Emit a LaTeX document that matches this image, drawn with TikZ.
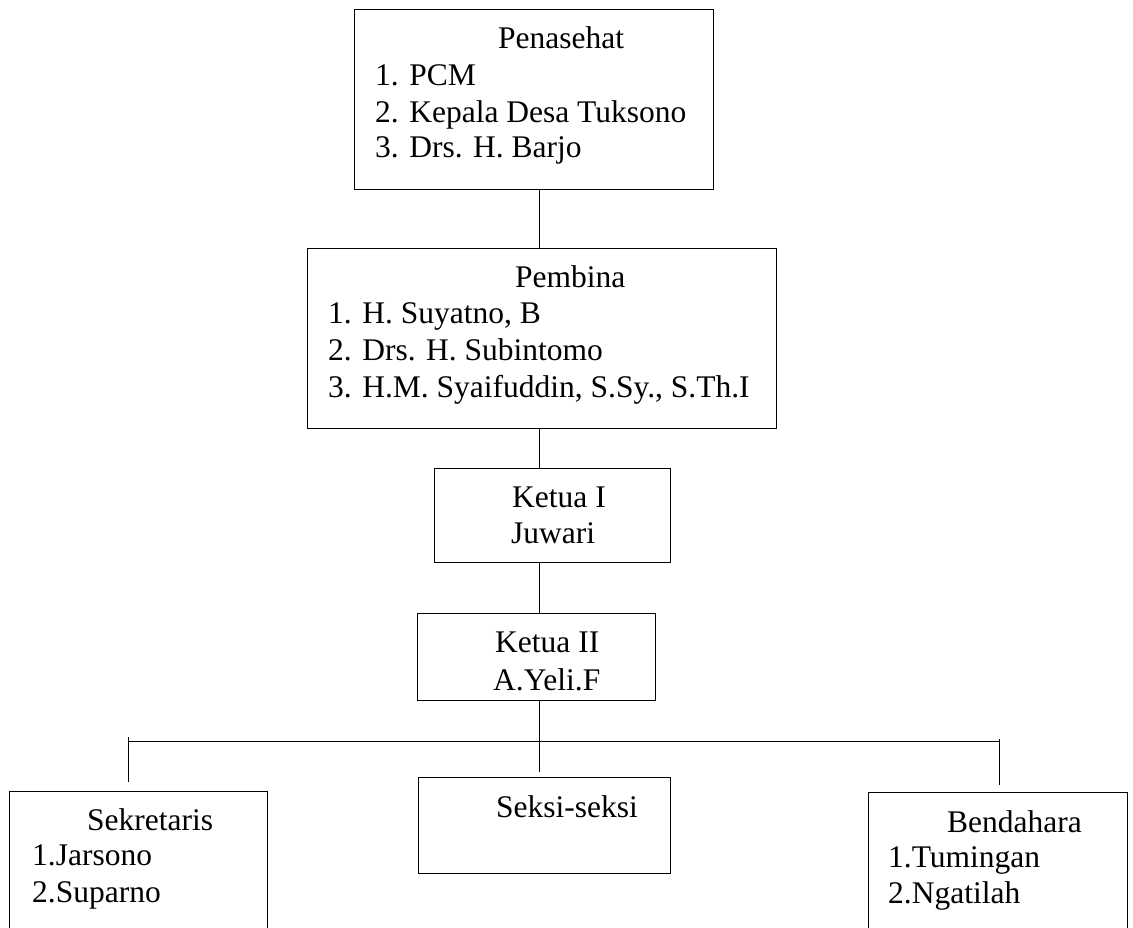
\documentclass[tikz,border=0pt]{standalone}
\usepackage{fontspec}
\setmainfont{Liberation Serif}
\begin{document}
\begin{tikzpicture}[x=1pt,y=-1pt,
  box/.style={draw=black,line width=1pt,inner sep=0pt,rectangle},
  lbl/.style={anchor=base west,inner sep=0pt,font=\fontsize{31.5}{37.8}\selectfont},
  conn/.style={draw=black,line width=1pt}]
\useasboundingbox (0,0) rectangle (1133,927);
\clip (0,0) rectangle (1133,927);
% boxes
\node[box,minimum width=359pt,minimum height=180pt] (pen) at (533.5,99) {};
\node[box,minimum width=469pt,minimum height=180pt] (pem) at (541.5,338) {};
\node[box,minimum width=236pt,minimum height=94pt] (k1) at (552,515) {};
\node[box,minimum width=238pt,minimum height=87pt] (k2) at (536,656.5) {};
\node[box,minimum width=252pt,minimum height=96pt] (seksi) at (544,825) {};
\node[box,minimum width=258pt,minimum height=220pt] (sek) at (138,901) {};
\node[box,minimum width=259pt,minimum height=220pt] (ben) at (997.5,902) {};
% texts
\node[lbl] (t1) at (498,48) {Penasehat};
\node[lbl] (t2) at (375,85) {1. PCM};
\node[lbl] (t3) at (375,122) {2. Kepala Desa Tuksono};
\node[lbl] (t4) at (375,157) {3. Drs. H. Barjo};
\node[lbl] (t5) at (515,287) {Pembina};
\node[lbl] (t6) at (328,323) {1. H. Suyatno, B};
\node[lbl] (t7) at (328,360) {2. Drs. H. Subintomo};
\node[lbl] (t8) at (328,397) {3. H.M. Syaifuddin, S.Sy., S.Th.I};
\node[lbl] (t9) at (512,507) {Ketua I};
\node[lbl] (t10) at (511,543) {Juwari};
\node[lbl] (t11) at (495,652) {Ketua II};
\node[lbl] (t12) at (493,690) {A.Yeli.F};
\node[lbl] (t13) at (496,817) {Seksi-seksi};
\node[lbl] (t14) at (87,830) {Sekretaris};
\node[lbl] (t15) at (32,865) {1.Jarsono};
\node[lbl] (t16) at (32,902) {2.Suparno};
\node[lbl] (t17) at (947,832) {Bendahara};
\node[lbl] (t18) at (888,867) {1.Tumingan};
\node[lbl] (t19) at (888,903) {2.Ngatilah};
% connectors
\coordinate (spine) at (539,0);
\coordinate (barL) at (128,741);
\coordinate (barR) at (999,741);
\coordinate (tickL) at (128,737);
\coordinate (tickR) at (999,739);
\draw[conn] (pen.south -| spine) -- (pem.north -| spine);
\draw[conn] (pem.south -| spine) -- (k1.north -| spine);
\draw[conn] (k1.south -| spine) -- (k2.north -| spine);
\draw[conn,shorten >=5pt] (k2.south -| spine) -- (seksi.north -| spine);
\draw[conn] (barL) -- (barR);
\draw[conn,shorten >=9pt] (tickL) -- (sek.north -| tickL);
\draw[conn,shorten >=7pt] (tickR) -- (ben.north -| tickR);
\end{tikzpicture}
\end{document}
